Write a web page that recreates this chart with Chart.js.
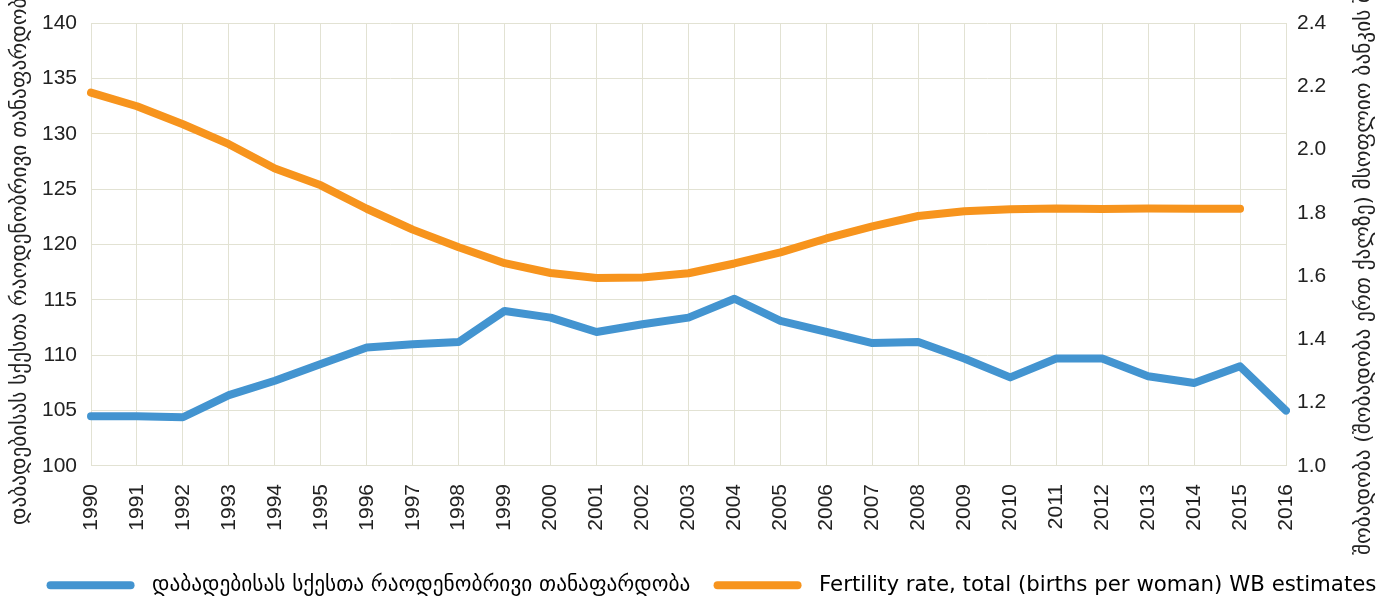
<!DOCTYPE html>
<html lang="ka">
<head>
<meta charset="UTF-8">
<title>Sex ratio at birth and fertility rate</title>
<script src="https://cdn.jsdelivr.net/npm/chart.js@4/dist/chart.umd.min.js"></script>
<style>
	body { margin: 0; background: #fff; }
	#wrap { width: 1389px; height: 599px; position: relative; }
</style>
</head>
<body>
	<div id="wrap">
		<canvas id="mainchart"></canvas>
	</div>

	<script>
		// years on the x axis
		var years = ['1990', '1991', '1992', '1993', '1994', '1995', '1996', '1997', '1998', '1999',
			'2000', '2001', '2002', '2003', '2004', '2005', '2006', '2007', '2008', '2009',
			'2010', '2011', '2012', '2013', '2014', '2015', '2016'];

		// sex ratio at birth (boys per 100 girls), left axis
		var sexRatio = [104.5, 104.5, 104.4, 106.4, 107.7, 109.2, 110.7, 111.0, 111.2, 114.0,
			113.4, 112.1, 112.8, 113.4, 115.1, 113.1, 112.1, 111.1, 111.2, 109.7,
			108.0, 109.7, 109.7, 108.1, 107.5, 109.0, 105.0];

		// total fertility rate, WB estimates, right axis (no value for 2016)
		var fertility = [2.18, 2.137, 2.08, 2.017, 1.94, 1.887, 1.813, 1.747, 1.691, 1.641,
			1.61, 1.594, 1.596, 1.609, 1.64, 1.675, 1.719, 1.757, 1.79, 1.805,
			1.811, 1.814, 1.812, 1.814, 1.813, 1.813, null];

		var leftTitle = 'დაბადებისას სქესთა რაოდენობრივი თანაფარდობა';
		var rightTitle = 'შობადობა (შობადობა ერთ ქალზე) მსოფლიო ბანკის შეფასებები';
		var seriesNames = ['დაბადებისას სქესთა რაოდენობრივი თანაფარდობა',
			'Fertility rate, total (births per woman) WB estimates'];

		var gridColor = '#e2e2d3';
		var tickColor = '#222';

		// both axis titles read bottom to top, so draw them by hand
		var axisTitles = {
			id: 'axisTitles',
			afterDraw: function(chart) {
				var ctx = chart.ctx;
				ctx.save();
				ctx.fillStyle = tickColor;
				ctx.font = '21.3px "DejaVu Sans"';
				ctx.textAlign = 'left';
				ctx.textBaseline = 'middle';

				ctx.save();
				ctx.translate(20, 525);
				ctx.rotate(-Math.PI / 2);
				ctx.fillText(leftTitle, 0, 0);
				ctx.restore();

				ctx.save();
				ctx.translate(1364, 555);
				ctx.rotate(-Math.PI / 2);
				ctx.fillText(rightTitle, 0, 0);
				ctx.restore();

				ctx.restore();
			}
		};

		var ctx1 = document.getElementById('mainchart').getContext('2d');
		var chart1 = new Chart(ctx1, {
			type : 'line',
			data : {
				labels : years,
				datasets : [ {
					label : seriesNames[0],
					data : sexRatio,
					yAxisID : 'y',
					borderColor : '#4394d0',
					backgroundColor : '#4394d0',
					borderWidth : 8,
					pointRadius : 0,
					tension : 0,
					borderCapStyle : 'round',
					borderJoinStyle : 'round'
				}, {
					label : seriesNames[1],
					data : fertility,
					yAxisID : 'y2',
					borderColor : '#f7941d',
					backgroundColor : '#f7941d',
					borderWidth : 8,
					pointRadius : 0,
					tension : 0,
					borderCapStyle : 'round',
					borderJoinStyle : 'round'
				} ]
			},
			options : {
				responsive : true,
				maintainAspectRatio : false,
				animation : false,
				layout : {
					padding : { left : 36, right : 2, top : 23, bottom : -7 }
				},
				plugins : {
					tooltip : { enabled : false },
					legend : {
						position : 'bottom',
						labels : {
							color : tickColor,
							font : { family : '"DejaVu Sans"', size : 21.3 },
							boxWidth : 88,
							boxHeight : 8,
							useBorderRadius : true,
							borderRadius : 4,
							padding : 3,
							generateLabels : function(chart) {
								return chart.data.datasets.map(function(ds, i) {
									// a space before, and spaces after the first item, set the gaps
									var txt = ' ' + ds.label + (i === 0 ? '   ' : '');
									return {
										text : txt,
										fillStyle : ds.borderColor,
										strokeStyle : ds.borderColor,
										lineWidth : 0,
										borderRadius : 4,
										datasetIndex : i,
										hidden : false
									};
								});
							}
						}
					}
				},
				scales : {
					x : {
						offset : false,
						grid : { color : gridColor, drawTicks : false },
						border : { color : gridColor },
						ticks : {
							color : tickColor,
							font : { family : '"Liberation Sans"', size : 21 },
							minRotation : 90,
							maxRotation : 90,
							padding : 18,
							autoSkip : false
						},
						afterFit : function(scale) { scale.height += 23; }
					},
					y : {
						position : 'left',
						min : 100,
						max : 140,
						grid : { color : gridColor, drawTicks : false },
						border : { color : gridColor },
						ticks : {
							stepSize : 5,
							color : tickColor,
							font : { family : '"Liberation Sans"', size : 21 },
							padding : 14
						},
						afterFit : function(scale) {
							scale.width = 55;
							scale.paddingTop = 0;
							scale.paddingBottom = 0;
						}
					},
					y2 : {
						position : 'right',
						min : 1.0,
						max : 2.4,
						grid : { drawOnChartArea : false, drawTicks : false },
						border : { display : false },
						ticks : {
							stepSize : 0.2,
							color : tickColor,
							font : { family : '"Liberation Sans"', size : 21 },
							padding : 11,
							callback : function(v) { return v.toFixed(1); }
						},
						afterFit : function(scale) {
							scale.width = 101;
							scale.paddingTop = 0;
							scale.paddingBottom = 0;
						}
					}
				}
			},
			plugins : [ axisTitles ]
		});
	</script>
</body>
</html>
